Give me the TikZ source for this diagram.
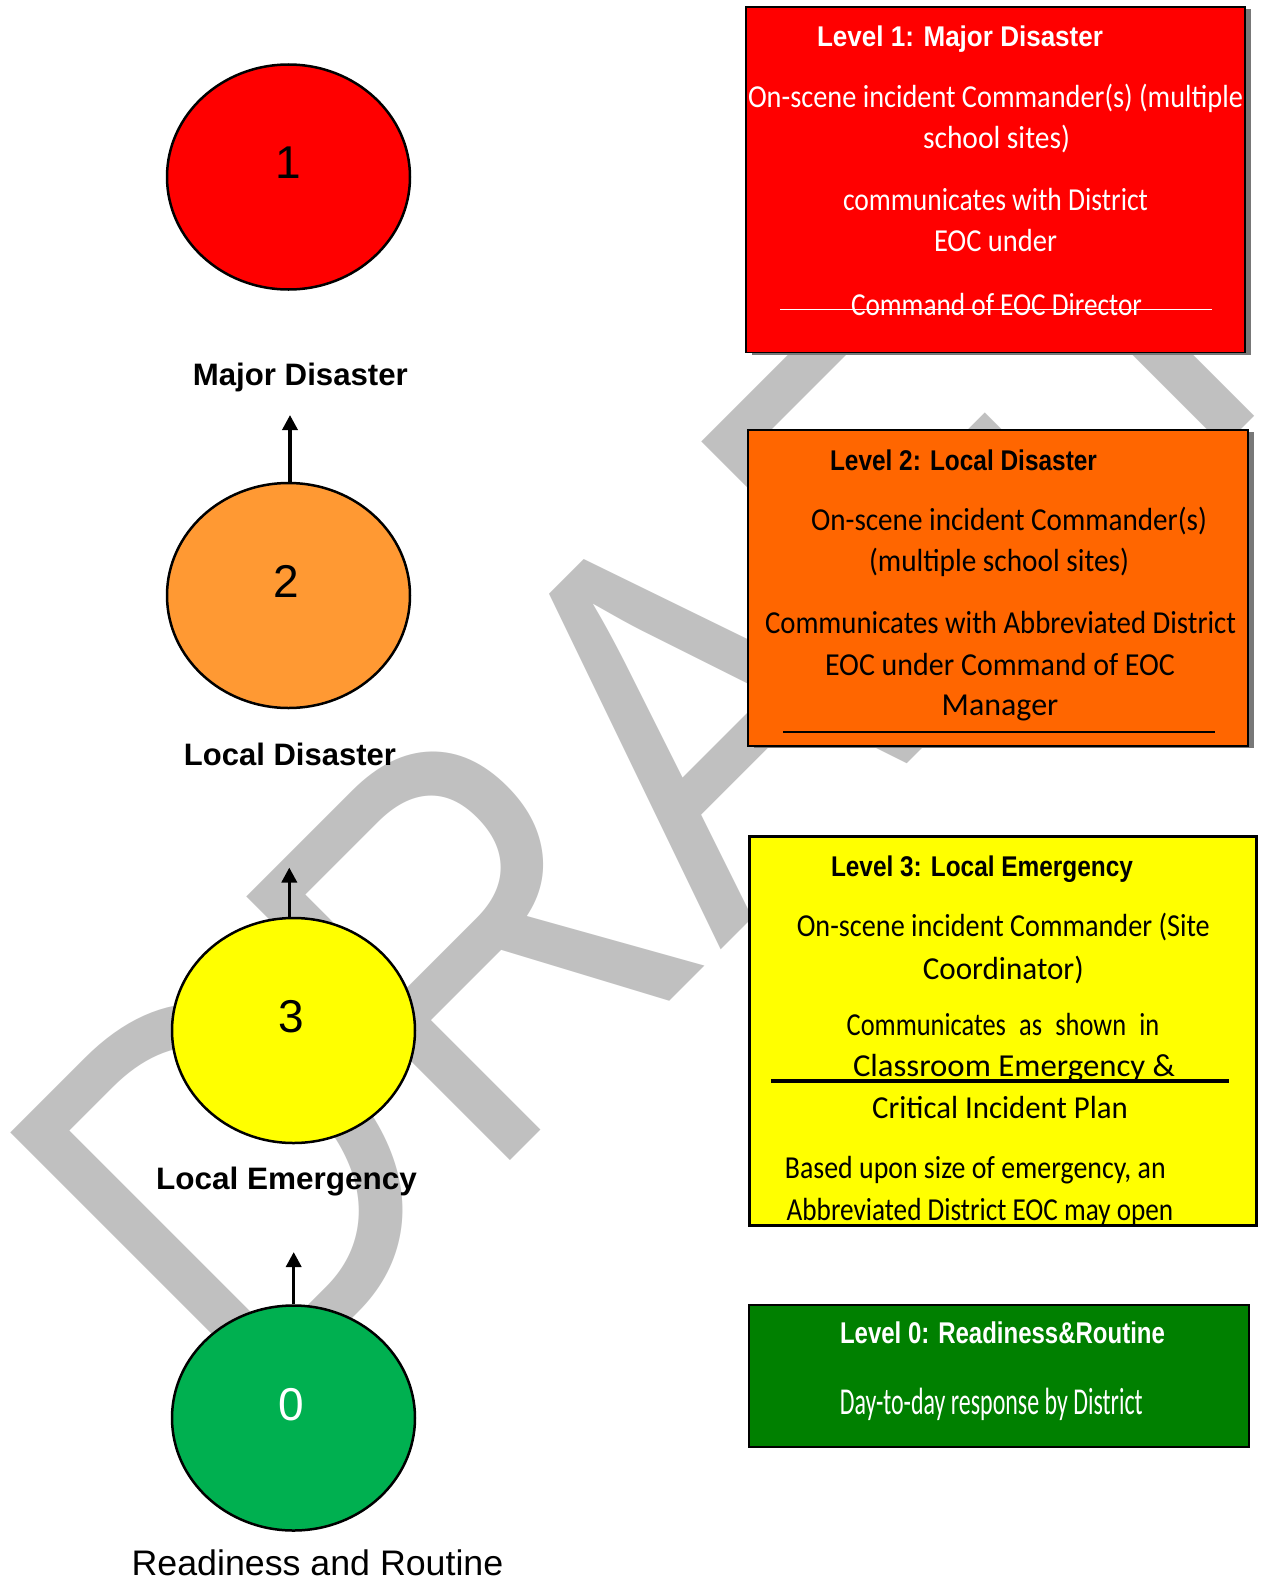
\documentclass[tikz,border=0pt]{standalone}
\usepackage{fontspec}
\usepackage{graphicx}
\usetikzlibrary{shapes.geometric,arrows.meta,shadows}
\newfontfamily\arialf{Liberation Sans}
\newfontfamily\calf{Carlito}
\definecolor{wm}{RGB}{192,192,192}
\definecolor{lv1}{RGB}{255,0,0}
\definecolor{lv2}{RGB}{255,153,51}
\definecolor{lv3}{RGB}{255,255,0}
\definecolor{lv0}{RGB}{0,176,80}
\definecolor{bx2}{RGB}{255,102,0}
\definecolor{bx0}{RGB}{0,128,0}
\definecolor{shd}{RGB}{120,120,120}
\newcommand\fitw[2]{\resizebox{#1pt}{\height}{#2}}
\tikzset{
  wmark/.style={text=wm, inner sep=0pt, font=\arialf\fontsize{542}{542}\selectfont},
  lvl/.style={ellipse, draw=black, line width=2.5pt, inner sep=0pt, minimum width=243pt, minimum height=225pt},
  digit/.style={anchor=base, inner sep=0pt, font=\arialf\fontsize{46}{46}\selectfont},
  lab/.style={anchor=base, inner sep=0pt, font=\arialf\bfseries\fontsize{31}{31}\selectfont},
  lbox/.style={draw=black, line width=1.8pt, inner sep=0pt},
  shad/.style={general shadow={fill=shd, shadow xshift=6pt, shadow yshift=-2pt}},
  ttl/.style={anchor=base, inner sep=0pt, font=\arialf\bfseries\fontsize{28.5}{28.5}\selectfont},
  bdy/.style={anchor=base, inner sep=0pt, font=\calf\fontsize{32}{32}\selectfont},
  up/.style={line width=3.5pt, -{Triangle[length=15pt,width=15pt]}},
}
\begin{document}
\begin{tikzpicture}[x=1pt,y=-1pt]
\useasboundingbox (0,0) rectangle (1263,1579);
\clip (0,0) rectangle (1263,1579);
\fill[white] (0,0) rectangle (1263,1579);
% watermark
\node[wmark, anchor=base west, rotate=45, xscale=0.855] (wmk) at (247,1424) {DRAFT};
% level circles
\node[lvl, fill=lv1] (c1) at (288.5,177) {};
\node[lvl, fill=lv2] (c2) at (288.5,595.5) {};
\node[lvl, fill=lv3] (c3) at (293.5,1030.5) {};
\node[lvl, fill=lv0] (c0) at (293.5,1418) {};
\node[digit] (d1) at (288,178.3) {1};
\node[digit] (d2) at (286,597.6) {2};
\node[digit] (d3) at (291,1032.7) {3};
\node[digit, text=white] (d0) at (291,1420) {0};
% labels
\node[lab] (l1) at (300.4,385) {\fitw{215}{Major Disaster}};
\node[lab] (l2) at (290,765.6) {\fitw{212}{Local Disaster}};
\node[lab] (l3) at (286.5,1189) {\fitw{261}{Local Emergency}};
\node[anchor=base, inner sep=0pt, font=\arialf\fontsize{35.5}{35.5}\selectfont] (l0) at (317.5,1575) {\fitw{371.6}{Readiness and Routine}};
% arrows
\coordinate (t2) at (290,415);
\coordinate (t3) at (289.3,867.5);
\coordinate (t0) at (293.7,1252);
\draw[up] (t2 |- c2.north) -- (t2);
\draw[up] (t3 |- c3.north) -- (t3);
\draw[up] (t0 |- c0.north) -- (t0);
% boxes
\node[lbox, shad, fill=lv1, minimum width=499pt, minimum height=345.5pt] (b1) at (995.5,179.75) {};
\node[lbox, shad, fill=bx2, minimum width=500pt, minimum height=316pt] (b2) at (998,588) {};
\node[lbox, fill=lv3, minimum width=506pt, minimum height=388pt] (b3) at (1003,1031) {};
\node[lbox, fill=bx0, minimum width=500pt, minimum height=142pt] (b0) at (999,1376) {};
% box 1 text
\begin{scope}[every node/.append style={text=white}]
\node[ttl] (h1) at (960,46.7) {\fitw{286}{Level 1: Major Disaster}};
\node[bdy] (t11) at (995.5,107) {\fitw{495}{On-scene incident Commander(s) (multiple}};
\node[bdy] (t12) at (996.5,148.3) {\fitw{147}{school sites)}};
\node[bdy] (t13) at (995.5,210.7) {\fitw{305}{communicates with District}};
\node[bdy] (t14) at (995.5,251.7) {\fitw{123}{EOC under}};
\node[bdy] (t15) at (996.5,315) {\fitw{291}{Command of EOC Director}};
\end{scope}
\draw[white, line width=1.5pt] (780,309.3) -- (1212,309.3);
% box 2 text
\node[ttl] (h2) at (963.5,470) {\fitw{267}{Level 2: Local Disaster}};
\node[bdy] (t21) at (1009,530) {\fitw{396}{On-scene incident Commander(s)}};
\node[bdy] (t22) at (999,571.7) {\fitw{260}{(multiple school sites)}};
\node[bdy] (t23) at (1000.5,633.3) {\fitw{471}{Communicates with Abbreviated District}};
\node[bdy] (t24) at (1000,675) {\fitw{350}{EOC under Command of EOC}};
\node[bdy] (t25) at (1000,715) {\fitw{116.6}{Manager}};
\draw[black, line width=2pt] (783,732.3) -- (1215,732.3);
% box 3 text
\node[ttl] (h3) at (982,876.7) {\fitw{302}{Level 3: Local Emergency}};
\node[bdy] (t31) at (1003.3,936.7) {\fitw{413}{On-scene incident Commander (Site}};
\node[bdy] (t32) at (1003.3,979) {\fitw{161}{Coordinator)}};
\node[bdy] (t33) at (1003,1035.7) {\fitw{312.6}{Communicates\hspace{0.5em}as\hspace{0.5em}shown\hspace{0.5em}in}};
\node[bdy] (t34) at (1014,1076.7) {\fitw{322}{Classroom Emergency \&}};
\draw[black, line width=3.3pt] (771,1081) -- (1229.3,1081);
\node[bdy] (t35) at (1000,1118.3) {\fitw{255.7}{Critical Incident Plan}};
\node[bdy] (t36) at (975.3,1178.3) {\fitw{380.7}{Based upon size of emergency, an}};
\begin{scope}
\clip (b3.south west) rectangle (b3.north east);
\node[bdy] (t37) at (980,1220) {\fitw{386.6}{Abbreviated District EOC may open}};
\end{scope}
\draw[line width=1.8pt] (b3.south west) rectangle (b3.north east);
% box 0 text
\node[ttl, font=\arialf\bfseries\fontsize{30}{30}\selectfont, text=white] (h0) at (1002.5,1343.3) {\fitw{325}{Level 0: Readiness\&Routine}};
\node[bdy, font=\calf\fontsize{38}{38}\selectfont, text=white] (t01) at (991.3,1414) {\fitw{302.7}{Day-to-day response by District}};
\end{tikzpicture}
\end{document}
